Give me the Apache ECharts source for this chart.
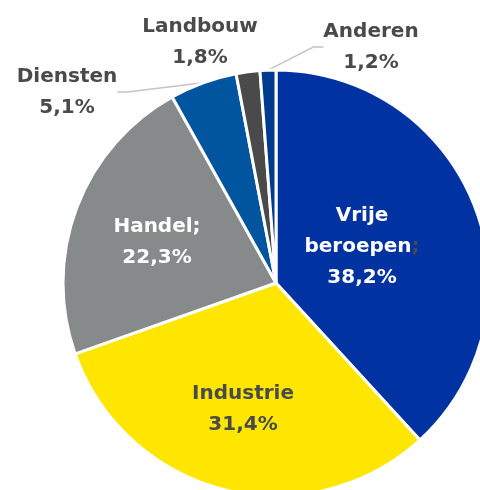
<!DOCTYPE html>
<html><head><meta charset="utf-8">
<script src="https://cdn.jsdelivr.net/npm/echarts@6/dist/echarts.min.js"></script>
<style>html,body{margin:0;padding:0;background:#fff}#c{width:480px;height:490px}</style>
</head><body><div id="c"></div>
<script>
const categories = ['Vrije beroepen', 'Industrie', 'Handel', 'Diensten', 'Landbouw', 'Anderen'];
const values = [38.2, 31.4, 22.3, 5.1, 1.8, 1.2];
const labelTexts = ['Vrije\nberoepen{s|;}\n38,2%', 'Industrie\n31,4%', 'Handel;\n22,3%', 'Diensten\n5,1%', 'Landbouw\n1,8%', 'Anderen\n1,2%'];
const colors = ['#0033A1', '#FFE600', '#878A8A', '#00559E', '#4A4A4A', '#003A8F'];
const labelColors = ['#ffffff', '#4A4A4A', '#ffffff', '#4A4A4A', '#4A4A4A', '#4A4A4A'];
const labelPos = [[362, 247], [243, 409], [157, 242], [67, 92], [200, 42], [371, 47]];
const showLine = [false, false, false, true, false, true];
const FONT = '"DejaVu Sans", sans-serif';

const chart = echarts.init(document.getElementById('c'), null, {renderer: 'canvas'});
chart.setOption({
  animation: false,
  series: [{
    type: 'pie',
    center: [276, 283],
    radius: [0, 213],
    startAngle: 90,
    clockwise: true,
    avoidLabelOverlap: false,
    itemStyle: {borderColor: '#ffffff', borderWidth: 3},
    label: {
      fontFamily: FONT,
      fontWeight: 'bold',
      fontSize: 20,
      lineHeight: 31,
      align: 'center',
      rich: {s: {color: '#4A4A4A', fontFamily: FONT, fontWeight: 'bold', fontSize: 20, lineHeight: 31}}
    },
    labelLine: {lineStyle: {color: '#C4C4C4', width: 1.5}, length: 10, length2: 10},
    labelLayout: function (p) {
      const pos = labelPos[p.dataIndex];
      return {x: pos[0], y: pos[1], align: 'center', verticalAlign: 'middle'};
    },
    data: categories.map((c, i) => ({
      name: c,
      value: values[i],
      itemStyle: {color: colors[i]},
      label: {show: true, position: i >= 3 ? 'outside' : 'inside', formatter: labelTexts[i], color: labelColors[i]},
      labelLine: {show: showLine[i]}
    }))
  }]
});
</script></body></html>
